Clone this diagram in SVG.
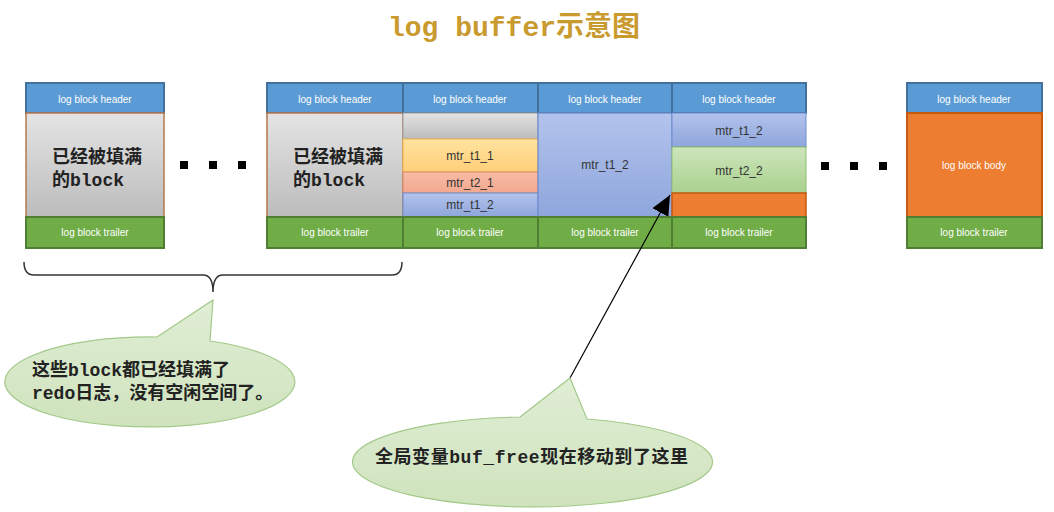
<svg xmlns="http://www.w3.org/2000/svg" width="1054" height="512" viewBox="0 0 1054 512">
<defs>
<linearGradient id="gGray" x1="0" y1="0" x2="0" y2="1"><stop offset="0" stop-color="#E4E4E4"/><stop offset="1" stop-color="#BCBCBC"/></linearGradient>
<linearGradient id="gYel" x1="0" y1="0" x2="0" y2="1"><stop offset="0" stop-color="#FFE3A0"/><stop offset="1" stop-color="#FFCF78"/></linearGradient>
<linearGradient id="gSal" x1="0" y1="0" x2="0" y2="1"><stop offset="0" stop-color="#F7BCA6"/><stop offset="1" stop-color="#F1A88E"/></linearGradient>
<linearGradient id="gBlue" x1="0" y1="0" x2="0" y2="1"><stop offset="0" stop-color="#B3C3EC"/><stop offset="1" stop-color="#8EA6DC"/></linearGradient>
<linearGradient id="gGreen" x1="0" y1="0" x2="0" y2="1"><stop offset="0" stop-color="#CDE5BC"/><stop offset="1" stop-color="#A9D18E"/></linearGradient>
<linearGradient id="gCall" x1="0" y1="0" x2="0" y2="1"><stop offset="0" stop-color="#E0EED5"/><stop offset="1" stop-color="#CFE3BD"/></linearGradient>
<marker id="ah" markerUnits="userSpaceOnUse" markerWidth="22" markerHeight="18" refX="20" refY="9" orient="auto">
<path d="M0,0 L20,9 L0,18 Z" fill="#000"/>
</marker>
</defs>
<style>
.hd{fill:#5B9BD5;stroke:#41719C;stroke-width:2}
.tr{fill:#70AD47;stroke:#507E32;stroke-width:2}
.gb{fill:url(#gGray);stroke:#B5774F;stroke-width:1.5}
.wt{font-family:"Liberation Sans",Arial,sans-serif;font-size:10px;fill:#fff;text-anchor:middle}
.mt{font-family:"Liberation Sans",Arial,sans-serif;font-size:12px;fill:#333;text-anchor:middle}
.cj{font-family:"Liberation Mono","Noto Sans CJK SC",monospace;font-size:18px;font-weight:bold;fill:#222}
.dot{fill:#000}
.call{fill:url(#gCall);stroke:#A3C98A;stroke-width:1.2}
</style>
<text x="514" y="36" text-anchor="middle" font-family="Liberation Mono,'Noto Sans CJK SC',monospace" font-size="28" font-weight="bold" fill="#C99A2E">log buffer示意图</text>

<g id="block-full-1">
<rect class="hd" x="26" y="83" width="138" height="30"/>
<text class="wt" x="95" y="103">log block header</text>
<rect class="gb" x="26" y="113" width="138" height="104"/>
<text class="cj" x="52" y="163">已经被填满</text>
<text class="cj" x="52" y="186">的block</text>
<rect class="tr" x="26" y="217" width="138" height="31"/>
<text class="wt" x="95" y="236">log block trailer</text>
</g>

<g id="dots-1">
<rect class="dot" x="180" y="161" width="8" height="8"/>
<rect class="dot" x="209" y="161" width="8" height="8"/>
<rect class="dot" x="238" y="161" width="8" height="8"/>
</g>

<g id="block-full-2">
<rect class="hd" x="267" y="83" width="136" height="30"/>
<text class="wt" x="335" y="103">log block header</text>
<rect class="gb" x="267" y="113" width="136" height="104"/>
<text class="cj" x="293" y="163">已经被填满</text>
<text class="cj" x="293" y="186">的block</text>
<rect class="tr" x="267" y="217" width="136" height="31"/>
<text class="wt" x="335" y="236">log block trailer</text>
</g>

<g id="block-3">
<rect class="hd" x="403" y="83" width="135" height="30"/>
<text class="wt" x="470" y="103">log block header</text>
<rect x="403" y="113" width="135" height="26" fill="url(#gGray)" stroke="#A0A0A0" stroke-width="1"/>
<rect x="403" y="139" width="135" height="33" fill="url(#gYel)" stroke="#F2B84B" stroke-width="1"/>
<text class="mt" x="470" y="160">mtr_t1_1</text>
<rect x="403" y="172" width="135" height="21" fill="url(#gSal)" stroke="#D9886A" stroke-width="1"/>
<text class="mt" x="470" y="187">mtr_t2_1</text>
<rect x="403" y="193" width="135" height="24" fill="url(#gBlue)" stroke="#6D8BD0" stroke-width="1"/>
<text class="mt" x="470" y="209">mtr_t1_2</text>
<rect class="tr" x="403" y="217" width="135" height="31"/>
<text class="wt" x="470" y="236">log block trailer</text>
</g>

<g id="block-4">
<rect class="hd" x="538" y="83" width="134" height="30"/>
<text class="wt" x="605" y="103">log block header</text>
<rect x="538" y="113" width="134" height="104" fill="url(#gBlue)" stroke="#6D8BD0" stroke-width="1.2"/>
<text class="mt" x="605" y="169">mtr_t1_2</text>
<rect class="tr" x="538" y="217" width="134" height="31"/>
<text class="wt" x="605" y="236">log block trailer</text>
</g>

<g id="block-5">
<rect class="hd" x="672" y="83" width="134" height="30"/>
<text class="wt" x="739" y="103">log block header</text>
<rect x="672" y="113" width="134" height="34" fill="url(#gBlue)" stroke="#6D8BD0" stroke-width="1"/>
<text class="mt" x="739" y="135">mtr_t1_2</text>
<rect x="672" y="147" width="134" height="46" fill="url(#gGreen)" stroke="#8DBF6C" stroke-width="1"/>
<text class="mt" x="739" y="175">mtr_t2_2</text>
<rect x="672" y="193" width="134" height="24" fill="#ED7D31" stroke="#C55A11" stroke-width="1.5"/>
<rect class="tr" x="672" y="217" width="134" height="31"/>
<text class="wt" x="739" y="236">log block trailer</text>
</g>

<g id="dots-2">
<rect class="dot" x="821" y="162" width="8" height="8"/>
<rect class="dot" x="850" y="162" width="8" height="8"/>
<rect class="dot" x="879" y="162" width="8" height="8"/>
</g>

<g id="block-last">
<rect class="hd" x="907" y="83" width="135" height="30"/>
<text class="wt" x="974" y="103">log block header</text>
<rect x="907" y="113" width="135" height="104" fill="#ED7D31" stroke="#C55A11" stroke-width="2"/>
<text class="wt" x="974" y="169">log block body</text>
<rect class="tr" x="907" y="217" width="135" height="31"/>
<text class="wt" x="974" y="236">log block trailer</text>
</g>

<g id="connectors">
<path d="M24,262 Q24,275 34,275 L203,275 Q213,275 213,292 Q213,275 223,275 L392,275 Q402,275 402,262" fill="none" stroke="#333" stroke-width="1.5"/>
<line x1="570" y1="378" x2="670" y2="195" stroke="#000" stroke-width="1.2" marker-end="url(#ah)"/>
</g>

<g id="callout-full">
<path class="call" d="M157,337 L213,300 L210,341 A145,45 0 1 1 157,337 Z"/>
<text class="cj" x="32" y="376" font-size="18">这些block都已经填满了</text>
<text class="cj" x="32" y="399" font-size="18">redo日志，没有空闲空间了。</text>
</g>

<g id="callout-free">
<path class="call" d="M520,417 L570,378 L587,419 A180,45 0 1 1 520,417 Z"/>
<text class="cj" x="375" y="463" textLength="313">全局变量buf_free现在移动到了这里</text>
</g>
</svg>
